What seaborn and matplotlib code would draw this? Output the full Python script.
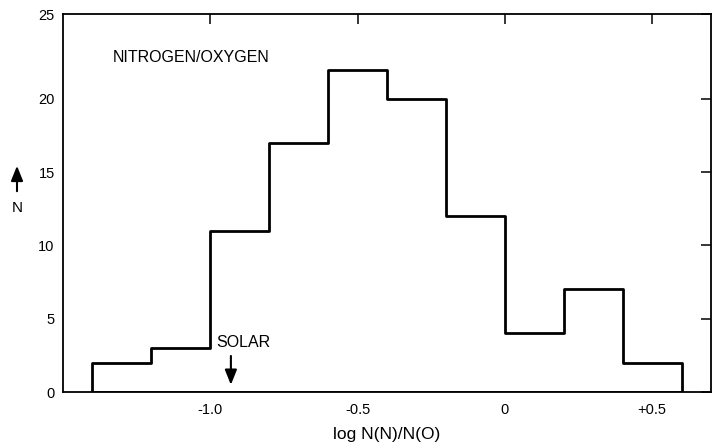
import matplotlib
matplotlib.use("Agg")
import matplotlib.pyplot as plt
import seaborn as sns
import numpy as np
import pandas as pd

# ---- data ----
bin_edges = [-1.4, -1.2, -1.0, -0.8, -0.6, -0.4, -0.2, 0.0, 0.2, 0.4, 0.6]
counts = [2, 3, 11, 17, 22, 20, 12, 4, 7, 2]
x_ticks = [-1.0, -0.5, 0.0, 0.5]
x_tick_labels = ["-1.0", "-0.5", "0", "+0.5"]
y_ticks = [0, 5, 10, 15, 20]
y_top = 25.8          # top of the frame (the original scan labels it "25")
y_tick_labels = ["0", "5", "10", "15", "20", "25"]
solar_value = -0.93
title_text = "NITROGEN/OXYGEN"
x_label = "log N(N)/N(O)"
y_label = "N"

sns.set_theme(style="white")
plt.rcParams["font.family"] = ["Liberation Sans", "DejaVu Sans"]

centers = [(a + b) / 2 for a, b in zip(bin_edges[:-1], bin_edges[1:])]
df = pd.DataFrame({"ratio": centers, "count": counts})

fig = plt.figure(figsize=(7.13, 4.43), dpi=100)
W, H = 713, 443
ax = fig.add_axes([63 / W, 1 - 392 / H, (711 - 63) / W, (392 - 14) / H])

sns.histplot(data=df, x="ratio", weights="count", bins=bin_edges,
             element="step", fill=True, color="black", facecolor="none",
             edgecolor="black", linewidth=2.0, ax=ax)

ax.set_xlim(-1.5, 0.7)
ax.set_ylim(0, y_top)
ax.set_xticks(x_ticks)
ax.set_xticklabels(x_tick_labels)
ax.set_yticks(y_ticks + [y_top])
ax.set_yticklabels(y_tick_labels)
ax.set_xlabel("")
ax.set_ylabel("")
ax.tick_params(direction="in", top=True, right=True, length=7.5, width=1.1,
               labelsize=10.5, colors="black")
ax.tick_params(axis="x", pad=8)
ax.tick_params(axis="y", pad=6)
for s in ax.spines.values():
    s.set_color("black")
    s.set_linewidth(1.3)

ax.text(-1.33, 22.8, title_text, ha="left", va="center", fontsize=11.5,
        color="black")

ax.annotate("", xy=(solar_value, 0.3), xytext=(solar_value, 2.65),
            arrowprops=dict(arrowstyle="-|>,head_width=0.3,head_length=0.75",
                            color="black", lw=1.5))
ax.text(solar_value - 0.05, 3.4, "SOLAR", ha="left", va="center",
        fontsize=11.5, color="black")

fig.text(387 / W, 1 - 434 / H, x_label, ha="center", va="center",
         fontsize=12.5, color="black")
fig.text(17 / W, 1 - 208 / H, y_label, ha="center", va="center",
         fontsize=11, color="black")
ax.annotate("", xy=(17 / W, 1 - 163 / H), xytext=(17 / W, 1 - 194 / H),
            xycoords="figure fraction", textcoords="figure fraction",
            arrowprops=dict(arrowstyle="-|>,head_width=0.3,head_length=0.75",
                            color="black", lw=1.5))

fig.savefig("out.png", dpi=100, facecolor="white")
